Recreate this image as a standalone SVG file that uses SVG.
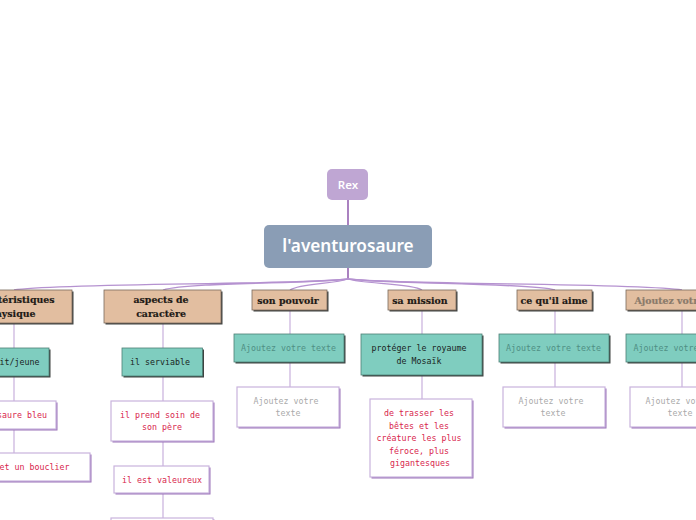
<svg xmlns="http://www.w3.org/2000/svg" width="696" height="520" viewBox="0 0 696 520">
<style>
.c{fill:none;stroke:#c3a9d9;stroke-width:1.1}
.e{fill:none;stroke:#b592d0;stroke-width:1.3}
.d{fill:none;stroke:#7d3f9f;stroke-width:1.3}
.h rect.b{fill:#e2bea0;stroke:#7a6a5c;stroke-width:.8}
.h rect.s,.t rect.s{fill:#3f4240}
.t rect.b{fill:#7fcdbf;stroke:#4d7f76;stroke-width:.8}
.w rect.b{fill:#fff;stroke:#c9b3dd;stroke-width:1.2}
.w rect.s{fill:#9a72b8}
.h text{font:bold 9.4px "DejaVu Serif","Liberation Serif",serif;fill:#1e1a16;stroke:#1e1a16;stroke-width:.2;text-anchor:middle}
.t text{font:8.3px "DejaVu Sans Mono","Liberation Mono",monospace;fill:#1a2523;text-anchor:middle}
.w text{font:8.3px "DejaVu Sans Mono","Liberation Mono",monospace;fill:#d8264c;text-anchor:middle}
.t text.g{fill:#4f8f84}
.h text.g{fill:#8a7a6a;stroke:#8a7a6a}
.w text.g{fill:#aaaaaa}
.r text{font-family:"Noto Sans","Open Sans",sans-serif;font-weight:600;fill:#fff;text-anchor:middle}
</style>
<g id="connectors">
<path class="d" d="M348 200V225M348 268V279"/>
<path class="e" d="M348 279C300 285 60 283 14 290"/>
<path class="e" d="M348 279C310 284 190 282 163 290"/>
<path class="e" d="M348 279C335 284 300 283 290 290"/>
<path class="e" d="M348 279C362 284 412 283 422 290"/>
<path class="e" d="M348 279C390 284 530 283 555 290"/>
<path class="e" d="M348 279C400 285 640 283 682 290"/>
<path class="c" d="M14 323V348M14 376V401M14 429V453M163 323V348M163 376V401M163 441V466M163 493V518M290 310V334M290 362V387M422 310V334M422 375V399M555 310V334M555 362V387M682 310V334M682 362V387"/>
</g>
<g id="rex" class="r"><rect x="327" y="169" width="41" height="31" rx="5" fill="#bfa6d3"/><text x="348" y="189" font-size="11.5">Rex</text></g>
<g id="main" class="r"><rect x="264" y="225" width="168" height="43" rx="5" fill="#8a9db5"/><text x="348" y="252" font-size="17.2">l'aventurosaure</text></g>

<g id="h1" class="h"><rect class="s" x="-43.500" y="291.500" width="117" height="33"/><rect class="b" x="-45" y="290" width="117" height="33"/><text x="12" y="303">caractéristiques</text><text x="12" y="317">physique</text></g>
<g id="h2" class="h"><rect class="s" x="105.500" y="291.500" width="117" height="33"/><rect class="b" x="104" y="290" width="117" height="33"/><text x="161" y="303">aspects de</text><text x="161" y="317">caractère</text></g>
<g id="h3" class="h"><rect class="s" x="253.500" y="291.500" width="75" height="20"/><rect class="b" x="252" y="290" width="75" height="20"/><text x="288" y="303.500">son pouvoir</text></g>
<g id="h4" class="h"><rect class="s" x="389.500" y="291.500" width="68" height="20"/><rect class="b" x="388" y="290" width="68" height="20"/><text x="420" y="303.500">sa mission</text></g>
<g id="h5" class="h"><rect class="s" x="518.500" y="291.500" width="75" height="20"/><rect class="b" x="517" y="290" width="75" height="20"/><text x="554" y="303.500">ce qu'il aime</text></g>
<g id="h6" class="h"><rect class="s" x="627.500" y="291.500" width="112" height="20"/><rect class="b" x="626" y="290" width="112" height="20"/><text class="g" x="684" y="303.500">Ajoutez votre texte</text></g>

<g id="t1" class="t"><rect class="s" x="-20.500" y="349.500" width="71" height="28"/><rect class="b" x="-22" y="348" width="71" height="28"/><text x="12" y="365">petit/jeune</text></g>
<g id="t2" class="t"><rect class="s" x="123.500" y="349.500" width="80.500" height="28"/><rect class="b" x="122" y="348" width="80.500" height="28"/><text x="160" y="365">il serviable</text></g>
<g id="t3" class="t"><rect class="s" x="235.500" y="335.500" width="110" height="28"/><rect class="b" x="234" y="334" width="110" height="28"/><text class="g" x="288.500" y="351">Ajoutez votre texte</text></g>
<g id="t4" class="t"><rect class="s" x="362.500" y="335.500" width="121" height="41"/><rect class="b" x="361" y="334" width="121" height="41"/><text x="419" y="351">protéger le royaume</text><text x="419" y="364">de Mosaïk</text></g>
<g id="t5" class="t"><rect class="s" x="500.500" y="335.500" width="110" height="28"/><rect class="b" x="499" y="334" width="110" height="28"/><text class="g" x="553.500" y="351">Ajoutez votre texte</text></g>
<g id="t6" class="t"><rect class="s" x="627.500" y="335.500" width="112" height="28"/><rect class="b" x="626" y="334" width="112" height="28"/><text class="g" x="681" y="351">Ajoutez votre texte</text></g>

<g id="w1" class="w"><rect class="s" x="-26.500" y="402.500" width="84" height="28"/><rect class="b" x="-28" y="401" width="84" height="28"/><text x="12" y="418">dinosaure bleu</text></g>
<g id="w2" class="w"><rect class="s" x="-62.500" y="454.500" width="154" height="28"/><rect class="b" x="-64" y="453" width="154" height="28"/><text x="12" y="470">une épée et un bouclier</text></g>
<g id="w3" class="w"><rect class="s" x="112.500" y="402.500" width="102" height="40"/><rect class="b" x="111" y="401" width="102" height="40"/><text x="160" y="418">il prend soin de</text><text x="162" y="430">son père</text></g>
<g id="w4" class="w"><rect class="s" x="115.500" y="467.500" width="95" height="27"/><rect class="b" x="114" y="466" width="95" height="27"/><text x="162" y="483">il est valeureux</text></g>
<g id="w5" class="w"><rect class="s" x="112.500" y="519.500" width="102" height="30"/><rect class="b" x="111" y="518" width="102" height="30"/></g>
<g id="w6" class="w"><rect class="s" x="238.500" y="388.500" width="102" height="40"/><rect class="b" x="237" y="387" width="102" height="40"/><text class="g" x="286" y="404">Ajoutez votre</text><text class="g" x="288" y="416">texte</text></g>
<g id="w7" class="w"><rect class="s" x="371.500" y="400.500" width="102" height="78"/><rect class="b" x="370" y="399" width="102" height="78"/><text x="419" y="416">de trasser les</text><text x="419" y="429">bêtes et les</text><text x="419" y="441">créature les plus</text><text x="419" y="454">féroce, plus</text><text x="420" y="466">gigantesques</text></g>
<g id="w8" class="w"><rect class="s" x="504.500" y="388.500" width="102" height="40"/><rect class="b" x="503" y="387" width="102" height="40"/><text class="g" x="551" y="404">Ajoutez votre</text><text class="g" x="553" y="416">texte</text></g>
<g id="w9" class="w"><rect class="s" x="631.500" y="388.500" width="102" height="40"/><rect class="b" x="630" y="387" width="102" height="40"/><text class="g" x="678" y="404">Ajoutez votre</text><text class="g" x="680" y="416">texte</text></g>
</svg>
